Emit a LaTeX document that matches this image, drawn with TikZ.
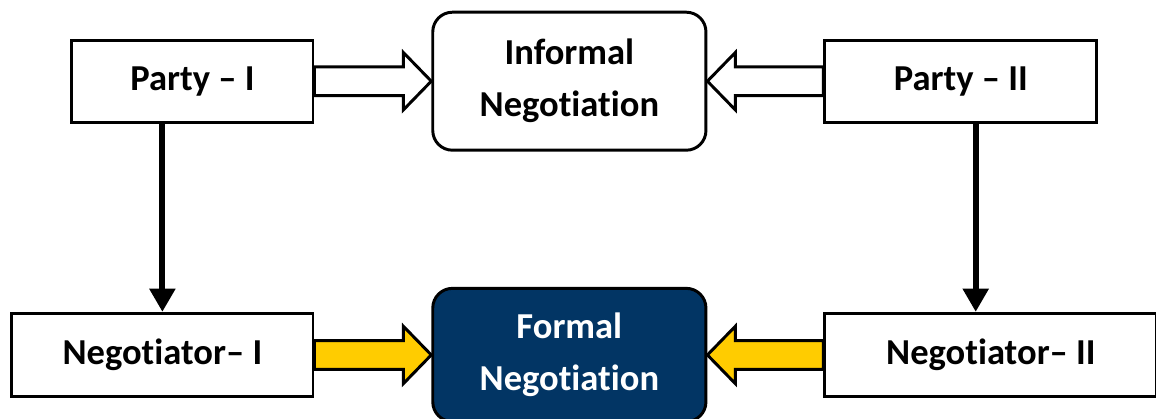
\documentclass[tikz,border=0pt]{standalone}
\usepackage{fontspec}
\setmainfont{Carlito}[Ligatures={NoCommon}]
\usepackage{xcolor}
\usepackage{tikz}
\usetikzlibrary{arrows.meta,positioning,calc}
\definecolor{ngnavy}{HTML}{023564}
\definecolor{ngjaune}{HTML}{FFCC00}

% block arrow: style, from, tip, direction (1 = to the right, -1 = to the left)
\newcommand{\blockarrow}[4]{%
  \draw[#1] ($(#2)+(0,0.36)$) -- ($(#3)+({-0.7*(#4)},0.36)$) -- ($(#3)+({-0.7*(#4)},0.72)$)
    -- (#3) -- ($(#3)+({-0.7*(#4)},-0.72)$) -- ($(#3)+({-0.7*(#4)},-0.36)$)
    -- ($(#2)+(0,-0.36)$) -- cycle;}

\begin{document}
\begin{tikzpicture}[
  box/.style={rectangle,draw=black,fill=white,line width=2.1pt,align=center,
    inner sep=0pt,font=\fontsize{26}{37}\selectfont\bfseries},
  rbox/.style={box,rounded corners=14pt},
  hol/.style={draw=black,fill=white,line width=2.1pt,line join=miter},
  yel/.style={hol,fill=ngjaune},
  down/.style={-{Triangle[length=0.58cm,width=0.62cm]},line width=4.3pt}]
  \fill[white] (0,0) rectangle (28.9,-10.45);
  \clip (0,0) rectangle (28.9,-10.45);
  \useasboundingbox (0,0) rectangle (28.9,-10.45);
  % top row
  \node[box,minimum width=6.03cm,minimum height=2.05cm] (party1) at (4.81,-2.03) {Party – I};
  \node[rbox,right=2.92cm of party1,minimum width=6.83cm,minimum height=3.45cm] (inf) {Informal\\Negotiation};
  \node[box,right=2.9cm of inf,minimum width=6.8cm,minimum height=2.05cm] (party2) {Party – II};
  % bottom row
  \node[rbox,below=3.38cm of inf,fill=ngnavy,text=white,minimum width=6.83cm,minimum height=3.33cm] (formal) {Formal\\Negotiation};
  \node[box,left=2.92cm of formal,minimum width=7.53cm,minimum height=2.08cm] (neg1) {Negotiator– I};
  \node[box,right=2.9cm of formal,minimum width=8.3cm,minimum height=2.08cm] (neg2) {Negotiator– II};
  % parties to the informal talks
  \blockarrow{hol}{party1.east}{inf.west}{1}
  \blockarrow{hol}{party2.west}{inf.east}{-1}
  % negotiators to the formal talks
  \blockarrow{yel}{neg1.east}{formal.west}{1}
  \blockarrow{yel}{neg2.west}{formal.east}{-1}
  % each party appoints its negotiator
  \coordinate (p2down) at ($(party2.south)+(0.37,0)$);
  \draw[down] (party1.south -| neg1.north) -- (neg1.north);
  \draw[down] (p2down) -- (p2down |- neg2.north);
\end{tikzpicture}
\end{document}
